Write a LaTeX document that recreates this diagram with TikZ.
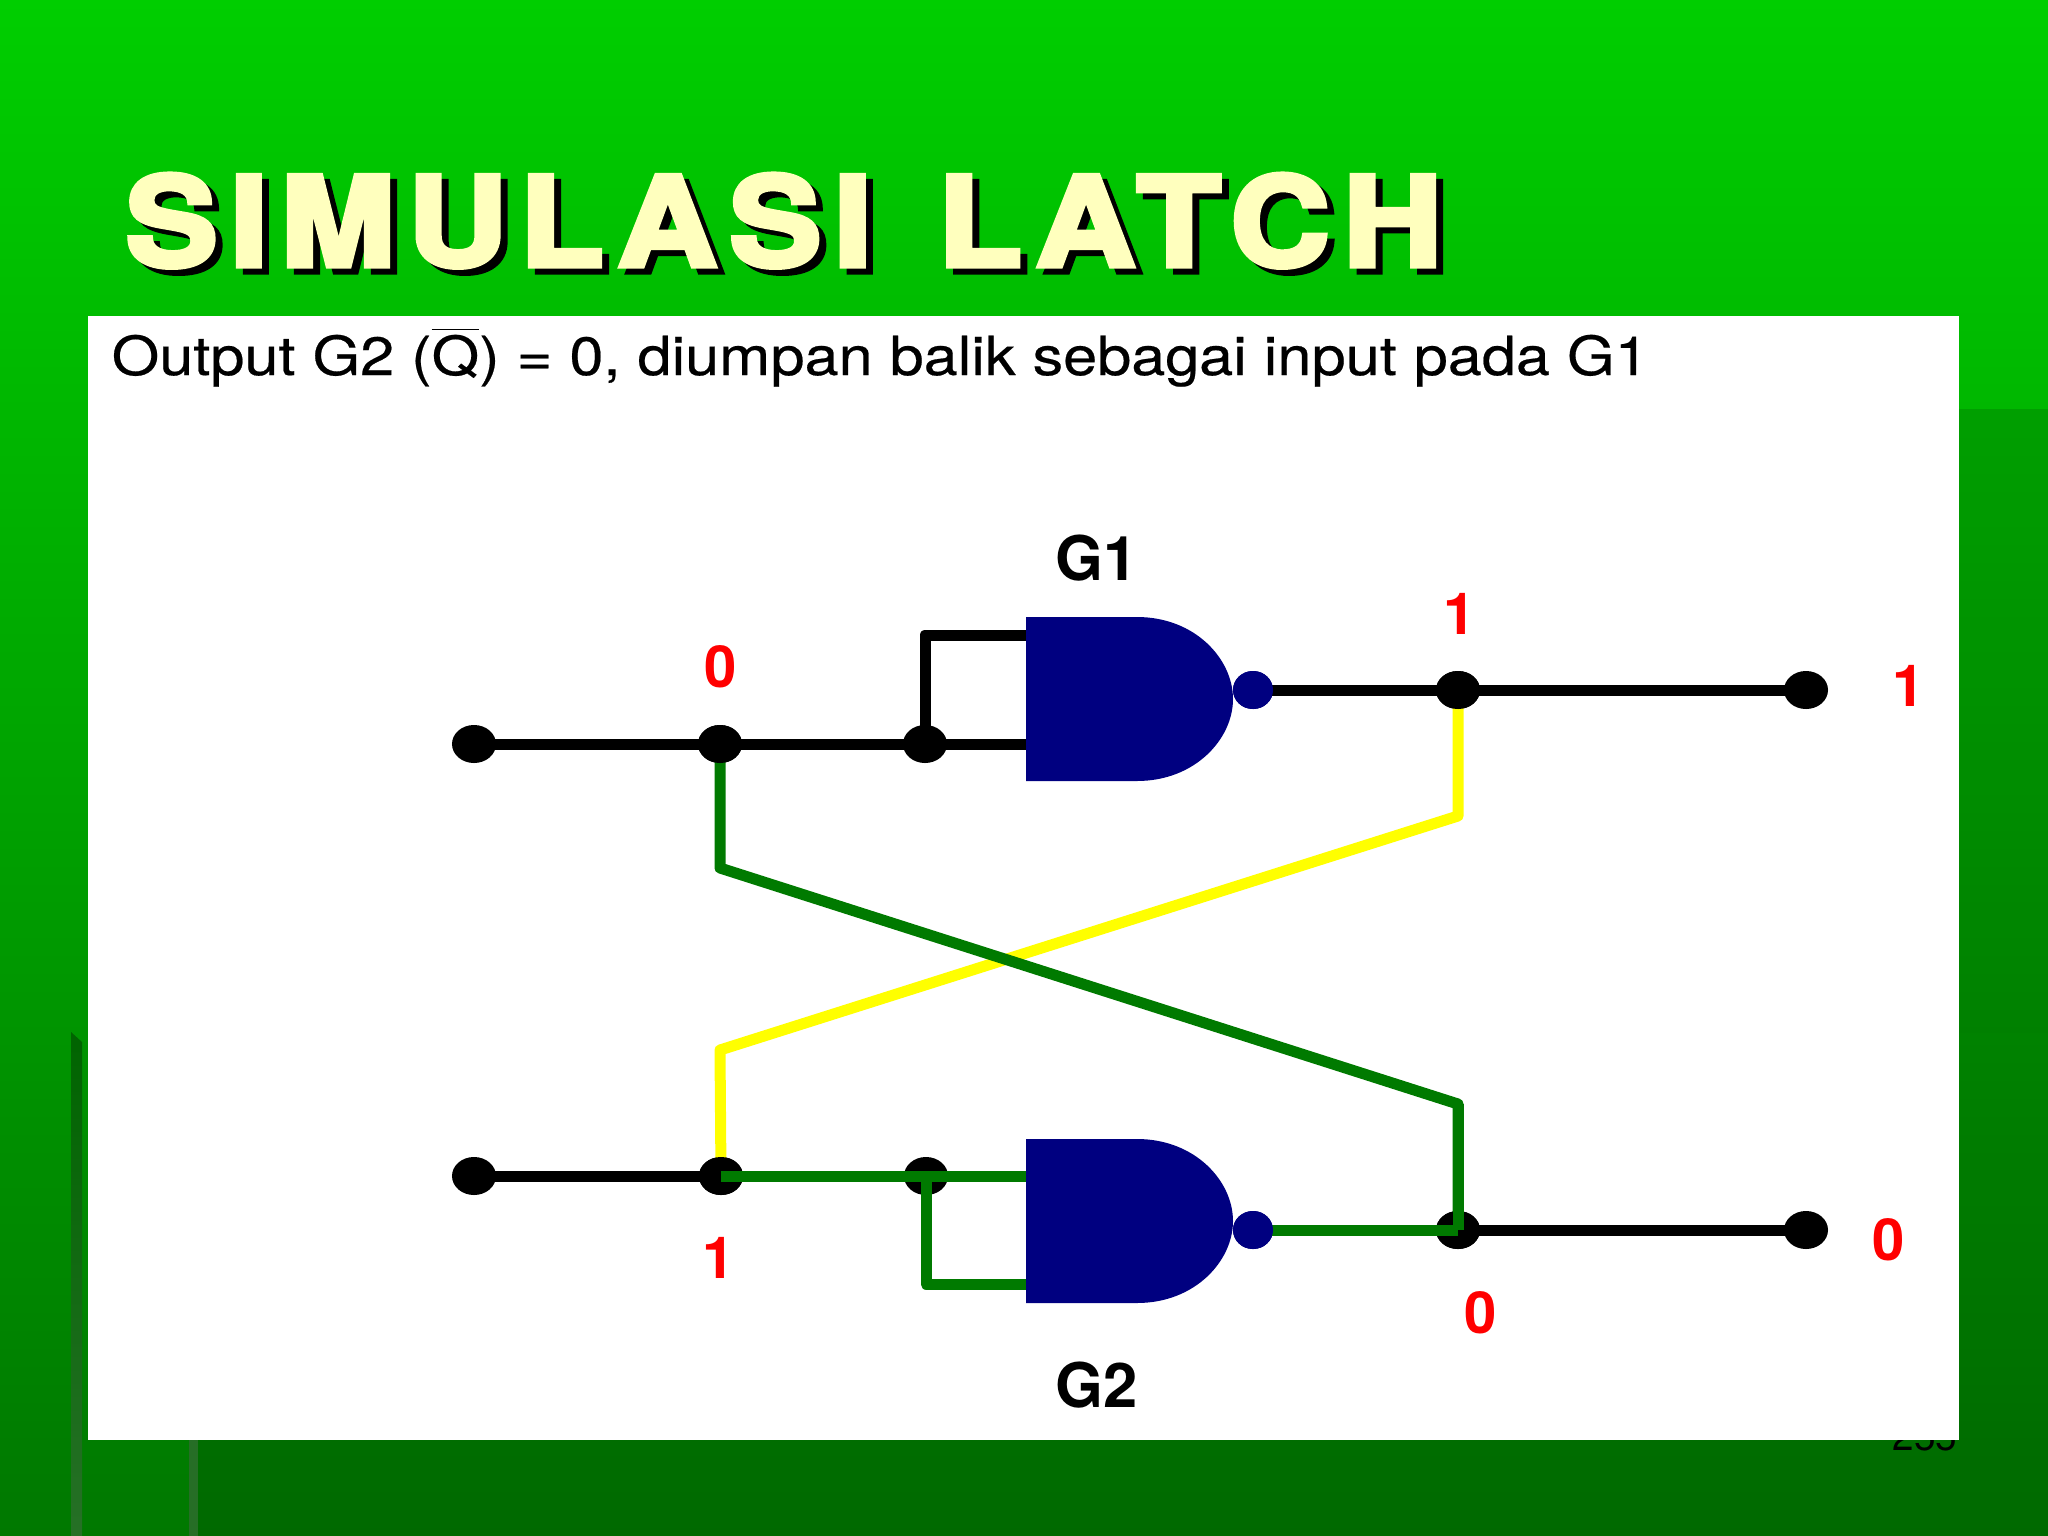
\documentclass[tikz,border=0pt]{standalone}
\usepackage{fontspec}
\setmainfont{TeX Gyre Heros}
\newfontfamily\headfont[FakeBold=4,LetterSpace=9,WordSpace=1.3]{TeX Gyre Heros Bold}
\newfontfamily\capfont[FakeBold=0.35]{TeX Gyre Heros}
\usetikzlibrary{shapes.geometric}
\definecolor{headcol}{RGB}{255,255,190}
\definecolor{gatecol}{RGB}{0,0,128}
\definecolor{loopgreen}{RGB}{0,122,0}
\definecolor{hotyellow}{RGB}{255,255,0}
\tikzset{
	pin/.style={ellipse, fill=black, minimum width=0.44cm, minimum height=0.38cm, inner sep=0, outer sep=-1pt},
	bubble/.style={ellipse, fill=gatecol, minimum width=0.4cm, minimum height=0.38cm, inner sep=0, outer sep=-1pt},
	blackwire/.style={line width=1.1mm, color=black},
	greenwire/.style={line width=1.1mm, color=loopgreen, line join=round},
	yellowwire/.style={line width=1.1mm, color=hotyellow, line join=round},
	bitlabel/.style={color=red, font=\fontsize{16.5pt}{18pt}\bfseries, inner sep=0},
	gatelabel/.style={color=black, font=\fontsize{17.5pt}{19pt}\bfseries, inner sep=0},
	gatebody/.style={fill=gatecol}
}
\def\nandbody(#1,#2){\fill[gatebody] (1026,#1) -- (1137,#1) .. controls (1195,#1) and (1233,#2-40) .. (1233,#2) .. controls (1233,#2+40) and (1195,#2+82) .. (1137,#2+82) -- (1026,#2+82) -- cycle;}

\begin{document}
\begin{tikzpicture}[x=0.01cm, y=-0.01cm]
	\useasboundingbox (0,0) rectangle (2048,1536);
	%%%%% BACKGROUND %%%%%
	\shade[top color={rgb,255:red,0;green,206;blue,0}, bottom color={rgb,255:red,0;green,120;blue,0}] (0,0) rectangle (2048,1536);
	\fill[black, fill opacity=0.13] (198,409) rectangle (2048,1033);
	\fill[black, fill opacity=0.12] (198,1033) rectangle (2048,1536);
	\shade[top color={rgb,255:red,0;green,100;blue,0}, bottom color={rgb,255:red,38;green,112;blue,38}] (71,1032) -- (82,1042) -- (82,1536) -- (71,1536) -- cycle;
	\fill[color={rgb,255:red,38;green,110;blue,38}] (189,1440) rectangle (198,1536);
	\node[anchor=base east, inner sep=0, font=\fontsize{11pt}{13pt}\selectfont] (pageno) at (1958,1450) {255};
	\fill[white] (88,316) rectangle (1959,1440);
	
	%%%%% TEXTS %%%%%
	\node[anchor=base west, inner sep=0, color=black] (titleshadow) at (132,272) {\headfont\resizebox{13.16cm}{0.92cm}{SIMULASI LATCH}};
	\node[anchor=base west, inner sep=0, color=headcol] (title) at (125,266) {\headfont\resizebox{13.16cm}{0.92cm}{SIMULASI LATCH}};
	\node[anchor=base west, inner sep=0, font=\fontsize{15pt}{18pt}\selectfont] (caption) at (111,375) {\capfont\scalebox{1}[0.88]{\resizebox{15.36cm}{!}{Output G2 ($\overline{\mbox{Q}}$) = 0, diumpan balik sebagai input pada G1}}};
	
	%%%%% GATES %%%%%
	\nandbody(617,699)
	\nandbody(1139,1221)
	\coordinate (g1a) at (1026,635);
	\coordinate (g1b) at (1026,744);
	\coordinate (g2a) at (1026,1176);
	\coordinate (g2b) at (1026,1284);
	\coordinate (loopa) at (925,635);
	\coordinate (loopb) at (926,1284);
	\coordinate (greenbend1) at (720,868);
	\coordinate (greenbend2) at (1458,1104);
	\coordinate (yellowbend1) at (1458,816);
	\coordinate (yellowbend2) at (720,1050);
	\node[bubble] (bub1) at (1253,690) {};
	\node[bubble] (bub2) at (1253,1230) {};
	
	\node[pin] (in1) at (474,744) {};
	\node[pin] (tap1) at (720,744) {};
	\node[pin] (fork1) at (925,744) {};
	\node[pin] (out1) at (1458,690) {};
	\node[pin] (end1) at (1806,690) {};
	\node[pin] (in2) at (474,1176) {};
	\node[pin] (tap2) at (721,1176) {};
	\node[pin] (fork2) at (926,1176) {};
	\node[pin] (out2) at (1458,1230) {};
	\node[pin] (end2) at (1806,1230) {};
	
	%%%%% WIRES %%%%%
	\draw[yellowwire] (out1.center) -- (yellowbend1) -- (yellowbend2) -- (tap2.center);
	\draw[greenwire] (tap1.center) -- (greenbend1) -- (greenbend2) -- (out2.center);
	\node[pin] at (tap1) {};
	\node[pin] at (out1) {};
	\node[pin] at (tap2) {};
	\node[pin] at (out2) {};
	\draw[blackwire] (in1) -- (tap1) -- (fork1) -- (g1b);
	\draw[blackwire, line join=round] (fork1) -- (loopa) -- (g1a);
	\draw[blackwire] (bub1) -- (out1) -- (end1);
	\draw[blackwire] (in2) -- (tap2);
	\draw[blackwire] (out2) -- (end2);
	\draw[greenwire] (tap2.center) -- (g2a);
	\draw[greenwire] (fork2.center) -- (loopb) -- (g2b);
	\draw[greenwire] (bub2) -- (out2.center);
	\draw[greenwire] (greenbend2) -- (out2.center);
	\node[bubble] at (bub1) {};
	\node[bubble] at (bub2) {};
	
	%%%%% LABELS %%%%%
	\node[gatelabel] (g1label) at (1097,558) {G1};
	\node[gatelabel] (g2label) at (1097,1385) {G2};
	\node[bitlabel] (bit1) at (721,667) {0};
	\node[bitlabel] (bit2) at (1460,614) {1};
	\node[bitlabel] (bit3) at (1909,686) {1};
	\node[bitlabel] (bit4) at (719,1258) {1};
	\node[bitlabel] (bit5) at (1481,1313) {0};
	\node[bitlabel] (bit6) at (1889,1240) {0};
\end{tikzpicture}
\end{document}
